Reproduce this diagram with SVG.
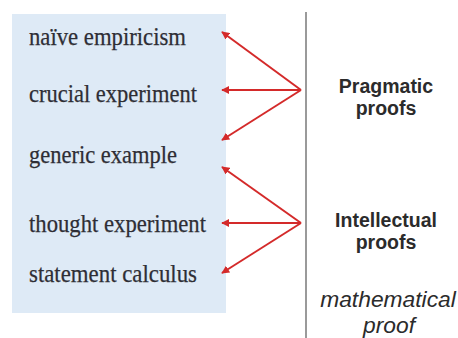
<svg xmlns="http://www.w3.org/2000/svg" width="458" height="338" viewBox="0 0 458 338">
<style>
.item{font-family:"Liberation Serif","Times New Roman",serif;font-size:25px;fill:#2e2e35;stroke:#2e2e35;stroke-width:0.25}
.cat{font-family:"Liberation Sans",Arial,sans-serif;font-size:19.5px;font-weight:bold;fill:#2b2b2b;text-anchor:middle}
.math{font-family:"Liberation Sans",Arial,sans-serif;font-size:22.8px;font-style:italic;fill:#2b2b2b;text-anchor:middle}
.arr{stroke:#d42a2a;stroke-width:2;fill:none;marker-end:url(#ah)}
</style>
<defs>
<marker id="ah" viewBox="0 0 10 10" refX="9" refY="5" markerWidth="4" markerHeight="4" orient="auto" markerUnits="strokeWidth">
<path d="M0,0 L10,5 L0,10 z" fill="#d42a2a"/>
</marker>
</defs>
<rect width="458" height="338" fill="#ffffff"/>
<g id="panel"><rect x="12" y="14" width="214" height="299" fill="#deeaf6"/></g>
<line x1="306" y1="12" x2="306" y2="338" stroke="#9a9a9a" stroke-width="2"/>
<g id="n-naive"><text class="item" x="29" y="45" textLength="157" lengthAdjust="spacingAndGlyphs">naïve empiricism</text></g>
<g id="n-crucial"><text class="item" x="29" y="102" textLength="168" lengthAdjust="spacingAndGlyphs">crucial experiment</text></g>
<g id="n-generic"><text class="item" x="29" y="163" textLength="148" lengthAdjust="spacingAndGlyphs">generic example</text></g>
<g id="n-thought"><text class="item" x="29" y="232" textLength="177" lengthAdjust="spacingAndGlyphs">thought experiment</text></g>
<g id="n-statement"><text class="item" x="29" y="282" textLength="168" lengthAdjust="spacingAndGlyphs">statement calculus</text></g>
<g id="n-pragmatic"><text class="cat" x="386" y="93">Pragmatic</text><text class="cat" x="386" y="115">proofs</text></g>
<g id="n-intellectual"><text class="cat" x="386" y="227">Intellectual</text><text class="cat" x="386" y="249">proofs</text></g>
<g id="n-math"><text class="math" x="388" y="307">mathematical</text><text class="math" x="389" y="333">proof</text></g>
<g id="connectors">
<line class="arr" x1="301" y1="90" x2="222" y2="32"/>
<line class="arr" x1="301" y1="90" x2="222" y2="90"/>
<line class="arr" x1="301" y1="90" x2="222" y2="140"/>
<line class="arr" x1="301" y1="223" x2="222" y2="167"/>
<line class="arr" x1="301" y1="223" x2="222" y2="223"/>
<line class="arr" x1="301" y1="223" x2="222" y2="273"/>
</g>
</svg>
